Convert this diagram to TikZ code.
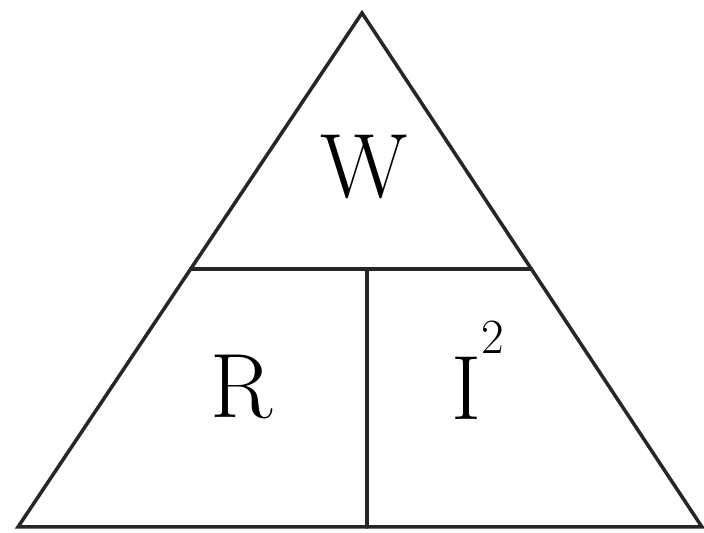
\documentclass[tikz,border=0pt]{standalone}
\usetikzlibrary{calc}
\tikzset{
  edge/.style={line width=2pt,draw=black!85,line cap=round,line join=miter},
  qty/.style={inner sep=0pt,font=\fontsize{52}{60}\selectfont}
}

\begin{document}
\begin{tikzpicture}
\useasboundingbox (0,0) rectangle (14.08,10.66);
\coordinate (top) at (7.24,10.40);
\coordinate (bl) at (0.36,0.12);
\coordinate (br) at (14.04,0.12);
\coordinate (ml) at ($(bl)!0.502!(top)$);
\coordinate (mr) at ($(br)!0.502!(top)$);
\coordinate (mid) at (7.34,5.28);
\coordinate (bot) at (7.34,0.12);
\draw[edge] (bl)--(top)--(br)--cycle;
\draw[edge] (ml)--(mr);
\draw[edge] (mid)--(bot);
\node[qty,anchor=base] (w) at (7.28,6.70) {W};
\node[qty,anchor=base] (r) at (4.84,2.30) {R};
\node[qty,anchor=base west] (i) at (9.02,2.26) {I\raisebox{38pt}{\fontsize{28}{30}\selectfont 2}};
\end{tikzpicture}
\end{document}
